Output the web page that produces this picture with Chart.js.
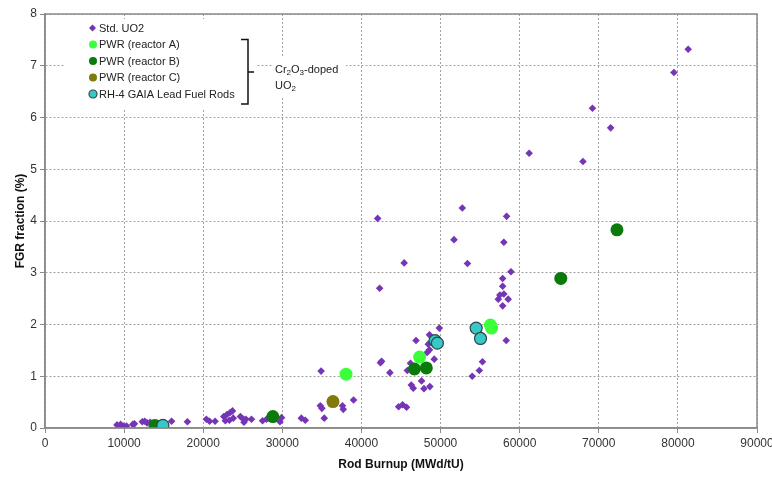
<!DOCTYPE html>
<html>
<head>
<meta charset="utf-8">
<script src="https://cdn.jsdelivr.net/npm/chart.js@4.4.0/dist/chart.umd.min.js"></script>
<style>
  html, body { margin: 0; padding: 0; background: #fff; }
  #wrap { width: 772px; height: 478px; position: relative; }
</style>
</head>
<body>
<div id="wrap"><canvas id="fgrChart"></canvas></div>
<script>
// Std. UO2 rods
const stdBurnup = [9100, 9550, 9900, 10300, 11100, 11300, 12300, 12600, 12900, 13300, 16000, 18000,
    20400, 20800, 21500, 22600, 22800, 23000, 23300, 23400, 23700, 23800, 24700, 25100, 25150, 25400,
    26100, 27500, 28000, 29700, 29900, 32400, 32900, 34800, 34900, 35000, 35300, 37600, 37700, 39000,
    42050, 42300, 42400, 42550, 43600, 44700, 45200, 45400, 45700, 45800, 46200, 46300, 46550, 46900,
    47100, 47600, 47900, 48300, 48450, 48600, 48600, 48650, 49200, 49850, 51700, 52750, 53400, 54000,
    54900, 55300, 57300, 57500, 57850, 57850, 57850, 58000, 58000, 58300, 58350, 58550, 58900, 61200,
    68000, 69200, 71500, 79500, 81300];
const stdFgr = [0.06, 0.07, 0.04, 0.04, 0.07, 0.08, 0.12, 0.13, 0.10, 0.11, 0.13, 0.12,
    0.17, 0.13, 0.13, 0.22, 0.14, 0.26, 0.15, 0.30, 0.33, 0.19, 0.22, 0.17, 0.11, 0.17,
    0.17, 0.14, 0.17, 0.12, 0.20, 0.19, 0.15, 0.43, 1.10, 0.38, 0.19, 0.43, 0.36, 0.54,
    4.05, 2.70, 1.26, 1.29, 1.07, 0.41, 0.45, 3.19, 0.40, 1.11, 1.25, 0.83, 0.77, 1.69,
    1.35, 0.91, 0.76, 1.46, 1.62, 1.51, 1.80, 0.80, 1.33, 1.93, 3.64, 4.25, 3.18, 1.00,
    1.11, 1.28, 2.49, 2.57, 2.36, 2.74, 2.89, 2.59, 3.59, 1.69, 4.09, 2.49, 3.02, 5.31,
    5.15, 6.18, 5.80, 6.87, 7.32];

// Cr2O3-doped UO2
const pwrABurnup = [38050, 47350, 56300, 56450];
const pwrAFgr = [1.04, 1.37, 1.99, 1.93];
const pwrBBurnup = [13900, 28800, 46700, 48200, 65200, 72300];
const pwrBFgr = [0.05, 0.22, 1.14, 1.16, 2.89, 3.83];
const pwrCBurnup = [36400];
const pwrCFgr = [0.51];
const rh4Burnup = [14900, 49300, 49600, 54500, 55050];
const rh4Fgr = [0.05, 1.69, 1.64, 1.93, 1.73];

const xTicks = [0, 10000, 20000, 30000, 40000, 50000, 60000, 70000, 80000, 90000];
const yTicks = [0, 1, 2, 3, 4, 5, 6, 7, 8];

const pts = (xs, ys) => xs.map((x, i) => ({ x: x, y: ys[i] }));

const FONT = '"Liberation Sans", Arial, sans-serif';

// white legend box + bracket note, drawn over the grid
const legendBox = {
    id: 'legendBox',
    beforeDatasetsDraw(chart) {
        const ctx = chart.ctx;
        ctx.save();
        ctx.fillStyle = '#fff';
        ctx.fillRect(65, 19, 192, 90);
        ctx.fillRect(272, 58, 74, 40);
        ctx.font = '11px ' + FONT;
        ctx.textBaseline = 'middle';
        ctx.textAlign = 'left';
        chart.data.datasets.forEach((ds, i) => {
            const y = 28 + i * 16.5;
            ctx.fillStyle = ds.backgroundColor;
            ctx.strokeStyle = ds.borderColor;
            ctx.lineWidth = ds.borderWidth;
            if (ds.pointStyle === 'rectRot') {
                ctx.beginPath();
                ctx.moveTo(92.5, y - 3.5);
                ctx.lineTo(96, y);
                ctx.lineTo(92.5, y + 3.5);
                ctx.lineTo(89, y);
                ctx.closePath();
                ctx.fill();
            } else {
                ctx.beginPath();
                ctx.arc(93, y, 4, 0, Math.PI * 2);
                ctx.fill();
                if (ds.borderWidth) ctx.stroke();
            }
            ctx.fillStyle = '#222';
            ctx.fillText(ds.label, 99, y + 0.5);
        });
        // bracket
        ctx.strokeStyle = '#111';
        ctx.lineWidth = 1.5;
        ctx.beginPath();
        ctx.moveTo(241, 39.5);
        ctx.lineTo(248, 39.5);
        ctx.lineTo(248, 104);
        ctx.lineTo(241, 104);
        ctx.moveTo(248, 72);
        ctx.lineTo(254, 72);
        ctx.stroke();
        // Cr2O3-doped UO2
        ctx.fillStyle = '#222';
        let x = 275;
        const parts = [['Cr', 0], ['2', 1], ['O', 0], ['3', 1], ['-doped', 0]];
        parts.forEach(p => {
            ctx.font = (p[1] ? '8px ' : '11px ') + FONT;
            ctx.fillText(p[0], x, p[1] ? 73 : 70);
            x += ctx.measureText(p[0]).width;
        });
        ctx.font = '11px ' + FONT;
        ctx.fillText('UO', 275, 86);
        const w = ctx.measureText('UO').width;
        ctx.font = '8px ' + FONT;
        ctx.fillText('2', 275 + w, 89);
        ctx.restore();
    },
    afterDraw(chart) {
        const a = chart.chartArea;
        const ctx = chart.ctx;
        ctx.save();
        ctx.strokeStyle = '#8a8a8a';
        ctx.lineWidth = 1.5;
        ctx.strokeRect(a.left, a.top, a.right - a.left, a.bottom - a.top);
        ctx.restore();
    }
};

const ctx = document.getElementById('fgrChart').getContext('2d');
new Chart(ctx, {
    type: 'scatter',
    data: {
        datasets: [{
            label: 'Std. UO2',
            data: pts(stdBurnup, stdFgr),
            backgroundColor: '#7535b5',
            borderColor: '#7535b5',
            borderWidth: 0,
            pointStyle: 'rectRot',
            pointRadius: 3.8,
            order: 2
        }, {
            label: 'PWR (reactor A)',
            data: pts(pwrABurnup, pwrAFgr),
            backgroundColor: '#3cff3c',
            borderColor: '#3cff3c',
            borderWidth: 0,
            pointRadius: 6.5,
            order: 1
        }, {
            label: 'PWR (reactor B)',
            data: pts(pwrBBurnup, pwrBFgr),
            backgroundColor: '#0a7a0a',
            borderColor: '#0a7a0a',
            borderWidth: 0,
            pointRadius: 6.5,
            order: 1
        }, {
            label: 'PWR (reactor C)',
            data: pts(pwrCBurnup, pwrCFgr),
            backgroundColor: '#7f7a0a',
            borderColor: '#7f7a0a',
            borderWidth: 0,
            pointRadius: 6.5,
            order: 1
        }, {
            label: 'RH-4 GAIA Lead Fuel Rods',
            data: pts(rh4Burnup, rh4Fgr),
            backgroundColor: '#38c8c8',
            borderColor: '#2a4848',
            borderWidth: 1.2,
            pointRadius: 6,
            order: 0
        }]
    },
    options: {
        responsive: true,
        maintainAspectRatio: false,
        animation: false,
        layout: { padding: { top: 14, right: 15, left: 0, bottom: 0 } },
        scales: {
            x: {
                type: 'linear',
                min: 0,
                max: 90000,
                afterBuildTicks: s => { s.ticks = xTicks.map(v => ({ value: v })); },
                afterFit: s => { s.height = 50; s.paddingLeft = 0; s.paddingRight = 0; },
                grid: {
                    color: '#a0a0a0',
                    tickColor: '#8a8a8a',
                    tickLength: 5,
                    tickBorderDash: [],
                    drawOnChartArea: true
                },
                border: { color: '#8a8a8a', width: 1.5, dash: [2, 2] },
                ticks: {
                    color: '#333',
                    padding: 3,
                    maxRotation: 0,
                    font: { family: FONT, size: 12 },
                    callback: v => String(v)
                },
                title: {
                    display: true,
                    text: 'Rod Burnup (MWd/tU)',
                    color: '#111',
                    font: { family: FONT, size: 12, weight: 'bold' },
                    padding: { top: 0, bottom: 6 }
                }
            },
            y: {
                min: 0,
                max: 8,
                afterBuildTicks: s => { s.ticks = yTicks.map(v => ({ value: v })); },
                afterFit: s => { s.width = 45; },
                grid: {
                    color: '#a0a0a0',
                    tickColor: '#8a8a8a',
                    tickLength: 5,
                    tickBorderDash: []
                },
                border: { color: '#8a8a8a', width: 1.5, dash: [2, 2] },
                ticks: {
                    color: '#333',
                    padding: 3,
                    font: { family: FONT, size: 12 }
                },
                title: {
                    display: true,
                    text: 'FGR fraction (%)',
                    color: '#111',
                    font: { family: FONT, size: 12, weight: 'bold' },
                    padding: { top: 13, bottom: 0 }
                }
            }
        },
        plugins: {
            legend: { display: false },
            tooltip: { enabled: false }
        }
    },
    plugins: [legendBox]
});
</script>
</body>
</html>
